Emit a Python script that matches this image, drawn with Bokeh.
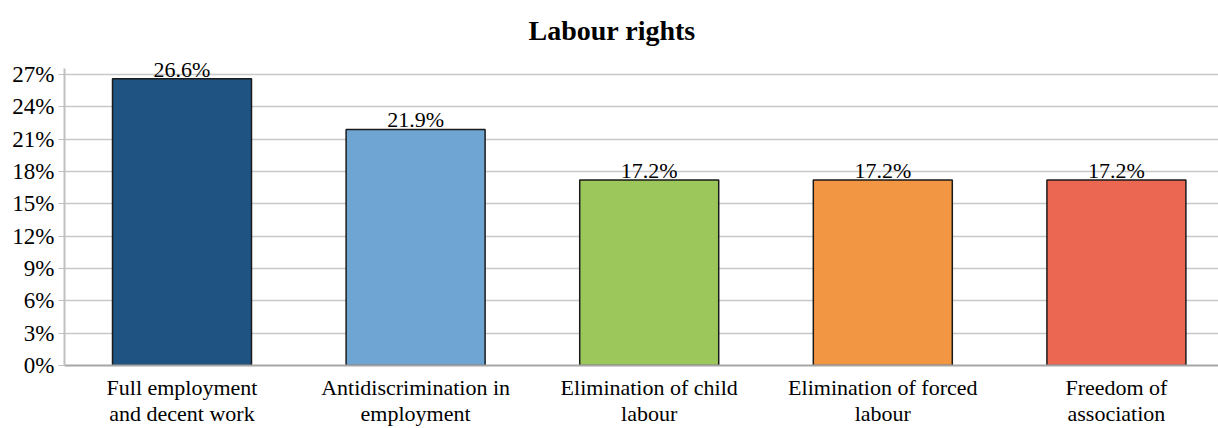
from bokeh.plotting import figure
from bokeh.models import ColumnDataSource, FixedTicker, PrintfTickFormatter, Range1d, Title, LabelSet
from bokeh.embed import file_html
from bokeh.resources import INLINE

categories = ["Full employment\nand decent work", "Antidiscrimination in\nemployment",
              "Elimination of child\nlabour", "Elimination of forced\nlabour", "Freedom of\nassociation"]
values = [26.6, 21.9, 17.2, 17.2, 17.2]
labels = ["26.6%", "21.9%", "17.2%", "17.2%", "17.2%"]
colors = ["#1F5381", "#6FA5D2", "#9BC75B", "#F39643", "#EC6751"]
y_ticks = [0, 3, 6, 9, 12, 15, 18, 21, 24, 27]

FONT = "Liberation Serif"
xs = list(range(len(categories)))
src = ColumnDataSource(dict(x=xs, top=values, label=labels, color=colors))

p = figure(width=1218, height=428, output_backend="svg", toolbar_location=None,
           x_range=Range1d(-0.503, 4.437), y_range=Range1d(0, 28.66),
           min_border_left=64, min_border_right=0, min_border_top=56, min_border_bottom=0)
p.title = Title(text="Labour rights", align="left", text_font=FONT, text_font_size="28px",
                text_font_style="bold", text_color="#000000", standoff=22, offset=464)
p.outline_line_color = None

p.vbar(x="x", top="top", width=0.595, source=src, fill_color="color",
       line_color="#1a1a1a", line_width=1.5)
p.add_layout(LabelSet(x="x", y="top", text="label", source=src, text_align="center",
                      text_baseline="bottom", y_offset=-3, text_font=FONT,
                      text_font_size="22px", text_color="#000000"))

p.xgrid.grid_line_color = None
p.ygrid.grid_line_color = "#c8c8c8"
p.ygrid.grid_line_width = 1.5
p.yaxis.ticker = FixedTicker(ticks=y_ticks)
p.yaxis.bounds = (0, 27.55)
p.yaxis.formatter = PrintfTickFormatter(format="%d%%")
p.xaxis.ticker = FixedTicker(ticks=xs)
p.xaxis.major_label_overrides = {i: c for i, c in enumerate(categories)}

for ax in (p.xaxis, p.yaxis):
    ax.major_label_text_font = FONT
    ax.major_label_text_color = "#000000"
    ax.minor_tick_line_color = None
p.yaxis.major_label_text_font_size = "23px"
p.xaxis.major_label_text_font_size = "22px"
p.xaxis.major_label_text_line_height = 1.05
p.yaxis.axis_line_color = "#c0c0c0"
p.yaxis.axis_line_width = 2
p.yaxis.major_tick_line_color = "#c0c0c0"
p.yaxis.major_tick_out = 6
p.yaxis.major_tick_in = 0
p.yaxis.major_label_standoff = 4
p.xaxis.axis_line_color = "#a6a6a6"
p.xaxis.axis_line_width = 2
p.xaxis.major_tick_line_color = None
p.xaxis.major_label_standoff = 3

open("out.html", "w").write(file_html(p, INLINE))
